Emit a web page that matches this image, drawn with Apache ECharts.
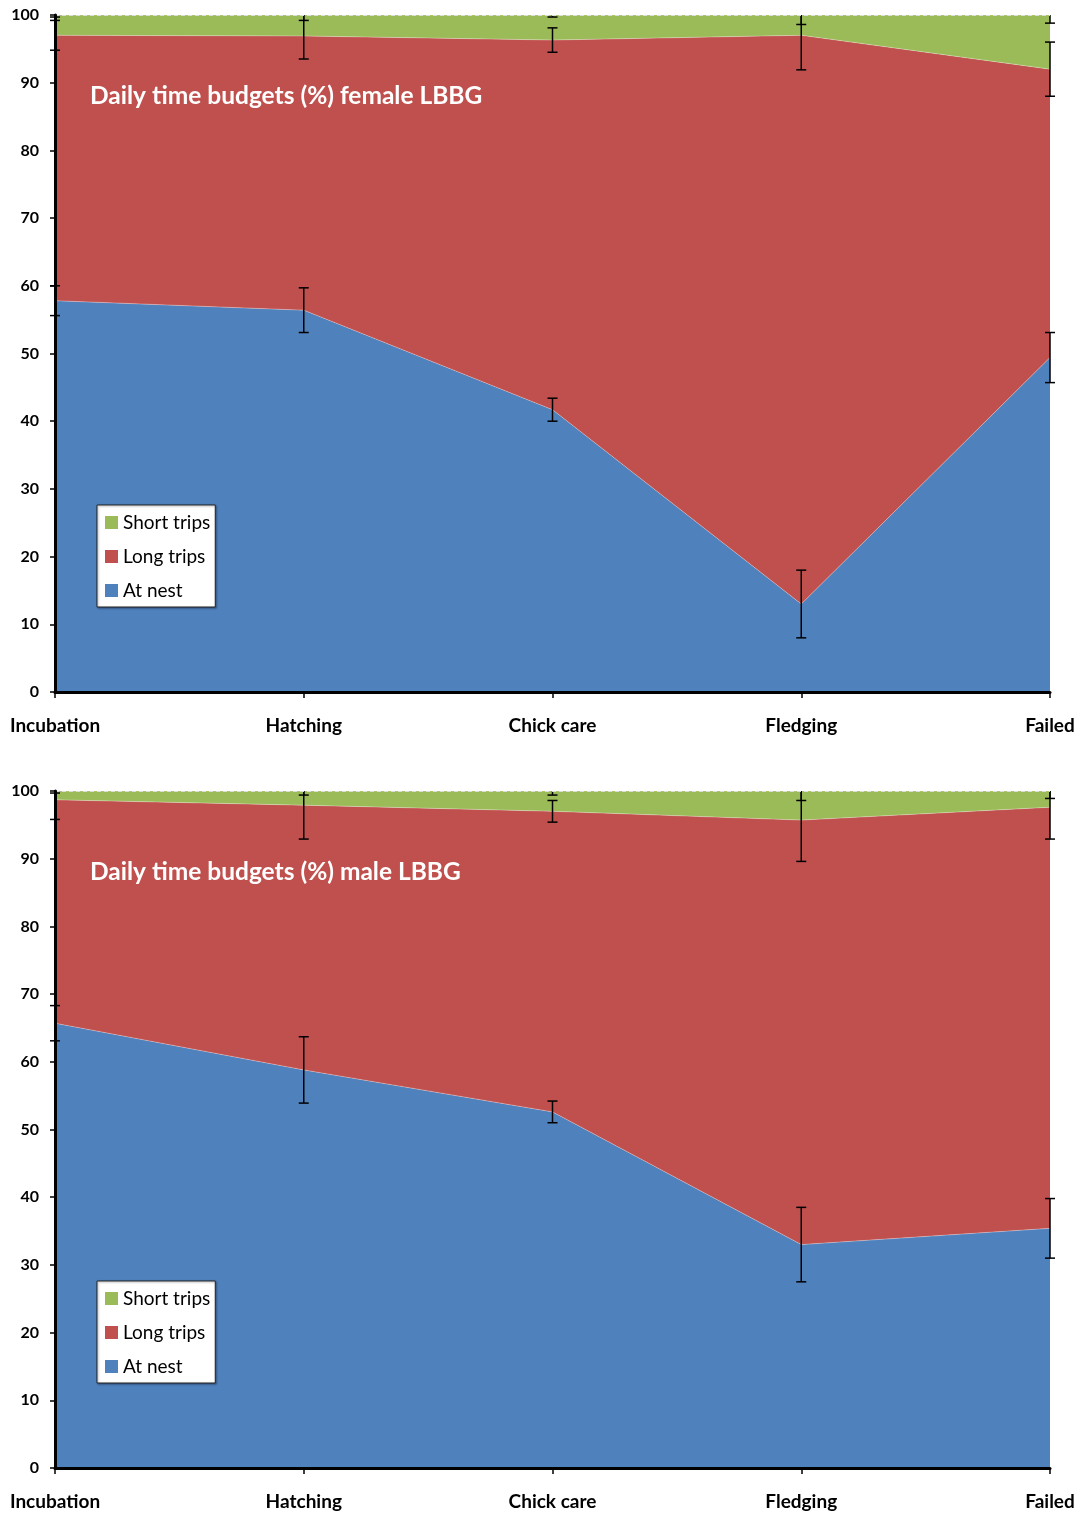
<!DOCTYPE html>
<html><head><meta charset="utf-8">
<script src="https://cdn.jsdelivr.net/npm/echarts@6/dist/echarts.min.js"></script>
<style>html,body{margin:0;padding:0;background:#fff}#c{width:1082px;height:1516px}</style>
</head><body><div id="c"></div>
<script>
const categories = ['Incubation', 'Hatching', 'Chick care', 'Fledging', 'Failed'];
const yTicks = [0, 10, 20, 30, 40, 50, 60, 70, 80, 90, 100];

// Female LBBG (%)
const femaleAtNest = [57.8, 56.4, 41.7, 13.0, 49.4];
const femaleLong   = [39.2, 40.5, 54.6, 84.0, 42.6];
const femaleShort  = [3.0, 3.1, 3.7, 3.0, 8.0];
const femaleSeNest  = [2.2, 3.3, 1.7, 5.0, 3.7];
const femaleSeLong  = [2.2, 3.4, 1.8, 5.1, 4.0];
const femaleSeShort = [0.3, 0.8, 0.3, 1.4, 1.2];

// Male LBBG (%)
const maleAtNest = [65.7, 58.8, 52.6, 33.0, 35.4];
const maleLong   = [33.0, 39.1, 44.4, 62.7, 62.2];
const maleShort  = [1.3, 2.1, 3.0, 4.3, 2.4];
const maleSeNest  = [2.6, 4.9, 1.6, 5.5, 4.4];
const maleSeLong  = [2.9, 5.0, 1.6, 6.1, 4.7];
const maleSeShort = [0.3, 0.6, 0.6, 1.4, 1.1];

const titles = ['Daily time budgets (%) female LBBG', 'Daily time budgets (%) male LBBG'];

const C_NEST = '#4F81BD', C_LONG = '#C0504D', C_SHORT = '#9BBB59';
const FONT = 'Lato';

const grids = [
  {left: 55, right: 32, top: 15, height: 677},
  {left: 55, right: 32, top: 791, height: 677}
];

function errRender(params, api) {
  const x = api.value(0), c = api.value(1), se = api.value(2);
  const lo = Math.max(0, c - se), hi = Math.min(100, c + se);
  const pLo = api.coord([x, lo]), pHi = api.coord([x, hi]);
  const children = [{type: 'line', shape: {x1: pLo[0], y1: pLo[1], x2: pHi[0], y2: pHi[1]},
    style: {stroke: '#000', lineWidth: 1.5}}];
  const cap = 5;
  if (c - se >= 0) children.push({type: 'line', shape: {x1: pLo[0]-cap, y1: pLo[1], x2: pLo[0]+cap, y2: pLo[1]}, style: {stroke: '#000', lineWidth: 1.5}});
  if (c + se <= 100) children.push({type: 'line', shape: {x1: pHi[0]-cap, y1: pHi[1], x2: pHi[0]+cap, y2: pHi[1]}, style: {stroke: '#000', lineWidth: 1.5}});
  return {type: 'group', children};
}

const sets = [
  [femaleAtNest, femaleLong, femaleShort, femaleSeNest, femaleSeLong, femaleSeShort],
  [maleAtNest, maleLong, maleShort, maleSeNest, maleSeLong, maleSeShort]
];

const xAxis = [], yAxis = [], series = [], legend = [], graphic = [];
sets.forEach((s, g) => {
  const [nest, lng, sht, seN, seL, seS] = s;
  xAxis.push({type: 'category', gridIndex: g, data: categories, boundaryGap: false,
    axisLine: {lineStyle: {color: '#000', width: 3}},
    axisTick: {show: true, length: 6, lineStyle: {color: '#000', width: 1.5}},
    axisLabel: {margin: 24, color: '#000', fontFamily: FONT, fontWeight: 'bold', fontSize: 19},
    splitLine: {show: false}, z: 5});
  yAxis.push({type: 'value', gridIndex: g, min: 0, max: 100, interval: 10,
    axisLine: {show: true, lineStyle: {color: '#000', width: 3}},
    axisTick: {show: true, length: 5, lineStyle: {color: '#000', width: 1.5}},
    axisLabel: {margin: 16, color: '#000', fontFamily: FONT, fontWeight: 'bold', fontSize: 16,
      formatter: v => yTicks.includes(v) ? String(v) : ''},
    splitLine: {show: false}, z: 5});
  const stack = 'st' + g;
  const mk = (name, data, color) => ({
    name, type: 'line', xAxisIndex: g, yAxisIndex: g, stack, data,
    symbol: 'none', smooth: false, lineStyle: {width: 0.6, color: 'rgba(255,255,255,0.5)'},
    areaStyle: {color, opacity: 1}, itemStyle: {color}, z: 1});
  series.push(mk('At nest', nest, C_NEST));
  series.push(mk('Long trips', lng, C_LONG));
  series.push(mk('Short trips', sht, C_SHORT));
  const errData = [];
  categories.forEach((_, i) => {
    errData.push([i, nest[i], seN[i]]);
    errData.push([i, nest[i] + lng[i], seL[i]]);
    errData.push([i, nest[i] + lng[i] + sht[i], seS[i]]);
  });
  series.push({type: 'custom', name: 'err' + g, xAxisIndex: g, yAxisIndex: g, renderItem: errRender,
    data: errData, z: 3, silent: true, encode: {x: 0, y: 1}});
  legend.push({orient: 'vertical', left: 97, top: g === 0 ? 505 : 1281,
    data: ['Short trips', 'Long trips', 'At nest'],
    backgroundColor: '#fff', borderColor: '#222', borderWidth: 1,
    padding: [8, 5, 7, 8], itemWidth: 13, itemHeight: 13, itemGap: 15,
    icon: 'rect', shadowColor: 'rgba(0,0,0,0.35)', shadowBlur: 2, shadowOffsetX: 1, shadowOffsetY: 1,
    textStyle: {fontFamily: FONT, fontSize: 19, color: '#000', padding: [0, 0, 0, 0]}});
  graphic.push({type: 'text', left: 90, top: g === 0 ? 84 : 860,
    style: {text: titles[g], fill: '#fff', font: 'bold 24.5px ' + FONT}, z: 10});
  graphic.push({type: 'line', shape: {x1: 55, y1: grids[g].top + 0.5, x2: 1050, y2: grids[g].top + 0.5},
    style: {stroke: '#ddd', lineWidth: 1, lineDash: [4, 3]}, z: 4});
});

const chart = echarts.init(document.getElementById('c'), null, {renderer: 'canvas'});
chart.setOption({
  animation: false,
  backgroundColor: '#fff',
  grid: grids, xAxis, yAxis, series, legend, graphic
});
</script></body></html>
